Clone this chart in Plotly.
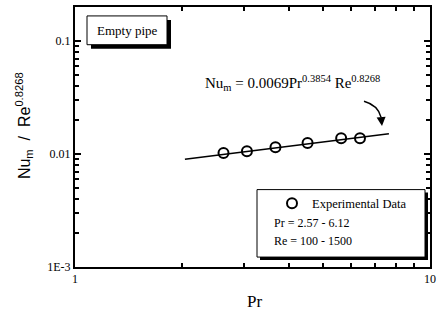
import plotly.graph_objects as go
import numpy as np

# Data
pr_exp = [2.62, 3.05, 3.67, 4.52, 5.62, 6.35]
nu_exp = [0.0102, 0.0106, 0.0115, 0.0125, 0.0138, 0.0138]
# fitted line end points
pr_fit = [2.04, 7.66]
nu_fit = [0.0090, 0.0151]

x_ticks = [1, 10]
x_ticklabels = ["1", "10"]
y_ticks = [0.001, 0.01, 0.1]
y_ticklabels = ["1E-3", "0.01", "0.1"]

FONT = "Liberation Serif"
SANS = "Liberation Sans"

# plot area in pixels
L, R, T, B = 75, 430, 5, 267
W, H = 441, 323


def px(x):
    return (x - L) / (R - L)


def py(y):
    return (B - y) / (B - T)


fig = go.Figure()
fig.add_trace(go.Scatter(x=pr_fit, y=nu_fit, mode="lines",
                         line=dict(color="black", width=1.5),
                         showlegend=False, hoverinfo="skip"))
fig.add_trace(go.Scatter(x=pr_exp, y=nu_exp, mode="markers",
                         name="Experimental Data",
                         marker=dict(symbol="circle-open", size=10,
                                     color="black", line=dict(width=2))))

minor_x = [m * 10 ** e for e in range(0, 1) for m in range(2, 10)]
minor_y = [m * 10 ** e for e in range(-3, 0) for m in range(2, 10)]

fig.update_xaxes(type="log", range=[0, 1], tickmode="array",
                 tickvals=x_ticks, ticktext=x_ticklabels,
                 ticks="inside", ticklen=6, tickwidth=1.5, tickcolor="black",
                 showline=True, linecolor="black", linewidth=2, mirror="ticks",
                 showgrid=False, zeroline=False,
                 minor=dict(tickmode="array", tickvals=minor_x, ticks="inside",
                            ticklen=4, tickwidth=1.5, tickcolor="black", showgrid=False),
                 tickfont=dict(family=FONT, size=12, color="black"))
fig.update_yaxes(type="log", range=[-3, np.log10(0.2)], tickmode="array",
                 tickvals=y_ticks, ticktext=y_ticklabels,
                 ticks="inside", ticklen=6, tickwidth=1.5, tickcolor="black",
                 showline=True, linecolor="black", linewidth=2, mirror="ticks",
                 showgrid=False, zeroline=False,
                 minor=dict(tickmode="array", tickvals=minor_y, ticks="inside",
                            ticklen=4, tickwidth=1.5, tickcolor="black", showgrid=False),
                 tickfont=dict(family=FONT, size=12, color="black"))

shapes = []
# Empty pipe box with shadow
shapes.append(dict(type="rect", xref="paper", yref="paper",
                   x0=px(91), x1=px(171), y0=py(18), y1=py(47),
                   fillcolor="black", line=dict(width=0)))
shapes.append(dict(type="rect", xref="paper", yref="paper",
                   x0=px(87), x1=px(167), y0=py(14), y1=py(43),
                   fillcolor="white", line=dict(color="black", width=1)))
# legend box with shadow
shapes.append(dict(type="rect", xref="paper", yref="paper",
                   x0=px(260), x1=px(428), y0=py(192), y1=py(260),
                   fillcolor="black", line=dict(width=0)))
shapes.append(dict(type="rect", xref="paper", yref="paper",
                   x0=px(257), x1=px(425), y0=py(189), y1=py(257),
                   fillcolor="white", line=dict(color="black", width=1)))
# curved arrow shaft
shapes.append(dict(type="path", xref="paper", yref="paper",
                   path=f"M {px(364)},{py(100)} Q {px(378)},{py(104)} {px(381)},{py(116)}",
                   line=dict(color="black", width=1.5)))
fig.update_layout(shapes=shapes)


def txt(x, y, text, size=12, family=FONT, xanchor="center", **kw):
    return dict(xref="paper", yref="paper", x=px(x), y=py(y), text=text,
                showarrow=False, xanchor=xanchor, yanchor="middle",
                font=dict(family=family, size=size, color="black"), **kw)


ann = []
ann.append(txt(127, 29, "Empty pipe", 13))
ann.append(txt(292, 82,
               "Nu<sub>m</sub> = 0.0069Pr<sup>0.3854</sup> Re<sup>0.8268</sup>", 15))
ann.append(dict(xref="paper", yref="paper", x=px(382), y=py(125),
                ax=-1, ay=-10, axref="pixel", ayref="pixel",
                text="", showarrow=True, arrowhead=2, arrowsize=1.2,
                arrowwidth=1.5, arrowcolor="black"))
ann.append(txt(272, 223, "Pr = 2.57 - 6.12", 12, xanchor="left"))
ann.append(txt(272, 241, "Re = 100 - 1500", 12, xanchor="left"))
# axis titles
ann.append(txt(254, 302, "Pr", 17))
ann.append(txt(24, 125, "Nu<sub>m</sub>  /  Re<sup>0.8268</sup>", 16,
               family=SANS, textangle=-90))
fig.update_layout(annotations=ann)

fig.update_layout(
    width=W, height=H,
    margin=dict(l=L, r=W - R, t=T, b=H - B),
    paper_bgcolor="white", plot_bgcolor="white",
    legend=dict(x=px(272), y=py(188), xanchor="left", yanchor="top",
                bgcolor="rgba(0,0,0,0)", borderwidth=0,
                font=dict(family=FONT, size=12.5, color="black")),
)

fig.write_html("out.html")
